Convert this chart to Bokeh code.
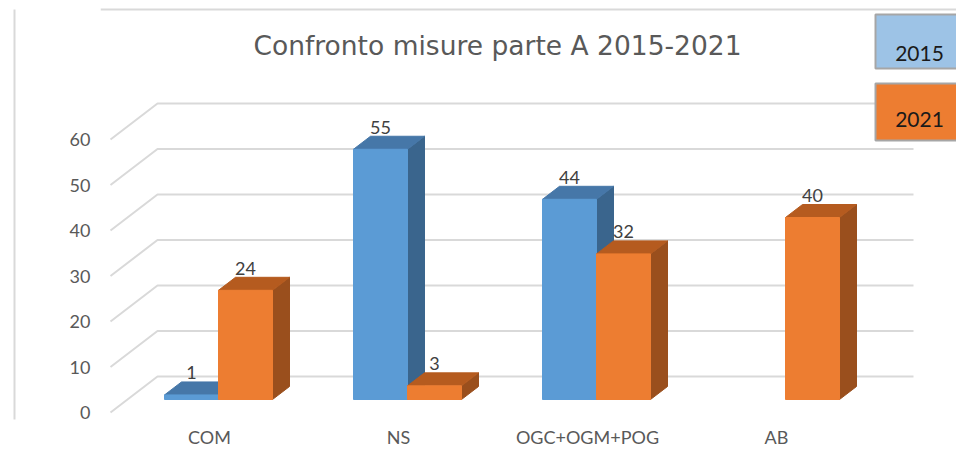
from bokeh.plotting import figure
from bokeh.models import Range1d, LinearAxis, FixedTicker, Label, Span
from bokeh.core.properties import value
from bokeh.embed import file_html
from bokeh.resources import INLINE

# ---------------- data ----------------
categories = ["COM", "NS", "OGC+OGM+POG", "AB"]
series_names = ["2015", "2021"]
values_2015 = [1, 55, 44, None]
values_2021 = [24, 3, 32, 40]
y_ticks = [0, 10, 20, 30, 40, 50, 60]
title_text = "Confronto misure parte A 2015-2021"

# ---------------- styles ----------------
FONT = "Lato"
TITLE_FONT = "DejaVu Sans"
front_colors = ["#5B9BD5", "#ED7D31"]
top_colors = ["#4677A8", "#B55B1F"]
side_colors = ["#3A658D", "#9A4F1D"]
legend_fill = ["#9DC3E6", "#ED7D31"]
GRID = "#D9D9D9"
TXT = "#595959"

# ---------------- geometry (page pixels; canvas starts at page 0,0) ----------------
W, H = 956, 465
ORIGIN_X = 218.0     # page x of first group centre
GROUP_PX = 189.0     # page px between groups
ZERO_Y = 399.0       # page y of value 0 at the bar front
PX_UNIT = 4.55       # page px per value unit
FRAME_L, FRAME_R, FRAME_T, FRAME_B = 100, W, 0, 419

def px2x(px):
    return (px - ORIGIN_X) / GROUP_PX

def px2y(py):
    return (ZERO_Y - py) / PX_UNIT

BW = 54 / GROUP_PX          # bar width
DX = 17 / GROUP_PX          # bar depth (x)
DY = 13 / PX_UNIT           # bar depth (y)

p = figure(width=W, height=H, output_backend="svg", toolbar_location=None,
           x_axis_location=None, y_axis_location=None,
           x_range=Range1d(px2x(FRAME_L), px2x(FRAME_R)),
           y_range=Range1d(px2y(FRAME_B), px2y(FRAME_T)),
           min_border_left=FRAME_L, min_border_right=W - FRAME_R,
           min_border_top=FRAME_T, min_border_bottom=H - FRAME_B)
p.outline_line_color = None
p.background_fill_color = "white"
p.border_fill_color = "white"
p.grid.visible = False

# front-plane ranges for the axes
p.extra_y_ranges = {"front": Range1d(px2y(FRAME_B) + DY, px2y(FRAME_T) + DY)}
LAB_SHIFT = 9 / GROUP_PX
p.extra_x_ranges = {"lab": Range1d(px2x(FRAME_L) + LAB_SHIFT, px2x(FRAME_R) + LAB_SHIFT)}

yax = LinearAxis(y_range_name="front", ticker=FixedTicker(ticks=y_ticks))
yax.axis_line_color = None
yax.major_tick_line_color = None
yax.minor_tick_line_color = None
yax.major_tick_out = 0
yax.major_tick_in = 0
yax.minor_tick_out = 0
yax.major_label_standoff = 10
yax.major_label_text_font = FONT
yax.major_label_text_font_size = "18px"
yax.major_label_text_color = TXT
p.add_layout(yax, "left")

# spacer + border axis: draws the chart's left border line out in the left panel
spacer = LinearAxis(y_range_name="front", ticker=FixedTicker(ticks=[]),
                    axis_line_color=None, major_tick_line_color=None, minor_tick_line_color=None,
                    major_tick_out=0, major_tick_in=0, minor_tick_out=0, major_label_standoff=0,
                    axis_label=" ", axis_label_text_font_size="1px", axis_label_standoff=48)
p.add_layout(spacer, "left")
border = LinearAxis(y_range_name="front", ticker=FixedTicker(ticks=[]),
                    bounds=(px2y(FRAME_B) + DY, px2y(9) + DY),
                    axis_line_color=GRID, axis_line_width=2,
                    major_tick_line_color=None, minor_tick_line_color=None,
                    major_tick_out=0, major_tick_in=0, minor_tick_out=0, major_label_standoff=0)
p.add_layout(border, "left")

xax = LinearAxis(x_range_name="lab", ticker=FixedTicker(ticks=list(range(len(categories)))))
xax.major_label_overrides = {i: c for i, c in enumerate(categories)}
xax.axis_line_color = None
xax.major_tick_line_color = None
xax.minor_tick_line_color = None
xax.major_tick_out = 0
xax.major_tick_in = 0
xax.minor_tick_out = 0
xax.major_label_standoff = 6
xax.major_label_text_font = FONT
xax.major_label_text_font_size = "18px"
xax.major_label_text_color = TXT
p.add_layout(xax, "below")

# chart border (top edge)
p.add_layout(Span(location=px2y(9), dimension="width", line_color=GRID, line_width=2))

# gridlines: front-plane diagonal then back wall
gx0 = px2x(110)
gx1 = gx0 + 47 / GROUP_PX
gx2 = px2x(913)
gxs, gys = [], []
for t in y_ticks:
    yf = t - DY
    yb = yf + 36 / PX_UNIT
    gxs.append([gx0, gx1, gx2])
    gys.append([yf, yb, yb])
p.multi_line(gxs, gys, line_color=GRID, line_width=2)

# 3D bars
pxs, pys, pcol = [], [], []
lx, ly, lt = [], [], []
series = [values_2015, values_2021]
for i in range(len(categories)):
    for s, vals in enumerate(series):
        v = vals[i]
        if v is None:
            continue
        x0 = i - BW + s * BW
        x1 = x0 + BW
        # side
        pxs.append([x1, x1, x1 + DX, x1 + DX]); pys.append([0, v, v + DY, DY]); pcol.append(side_colors[s])
        # top
        pxs.append([x0, x0 + DX, x1 + DX, x1]); pys.append([v, v + DY, v + DY, v]); pcol.append(top_colors[s])
        # front
        pxs.append([x0, x0, x1, x1]); pys.append([0, v, v, 0]); pcol.append(front_colors[s])
        lx.append(x0 + BW / 2); ly.append(v + DY); lt.append(str(v))

p.patches(xs=pxs, ys=pys, fill_color=pcol, line_color=pcol, line_width=1)

p.text(x=lx, y=ly, text=lt, text_font=value(FONT), text_font_size="18px",
       text_color="#404040", text_align="center", text_baseline="alphabetic", y_offset=-9)

# title
p.add_layout(Label(x=px2x(497), y=px2y(45), text=title_text, text_font=TITLE_FONT,
                   text_font_size="26.5px", text_color=TXT, text_align="center",
                   text_baseline="alphabetic"))

# legend boxes
leg_top = [14, 83]
leg_bot = [68, 140]
p.quad(left=[px2x(875)] * 2, right=[px2x(1100)] * 2,
       top=[px2y(t) for t in leg_top], bottom=[px2y(b) for b in leg_bot],
       fill_color=legend_fill, line_color="#A6A6A6", line_width=2)
p.text(x=[px2x(919)] * 2, y=[px2y(53), px2y(119)], text=series_names,
       text_font=value(FONT), text_font_size="21px", text_color="#1A1A1A",
       text_align="center", text_baseline="alphabetic")

open("out.html", "w").write(file_html(p, INLINE))
